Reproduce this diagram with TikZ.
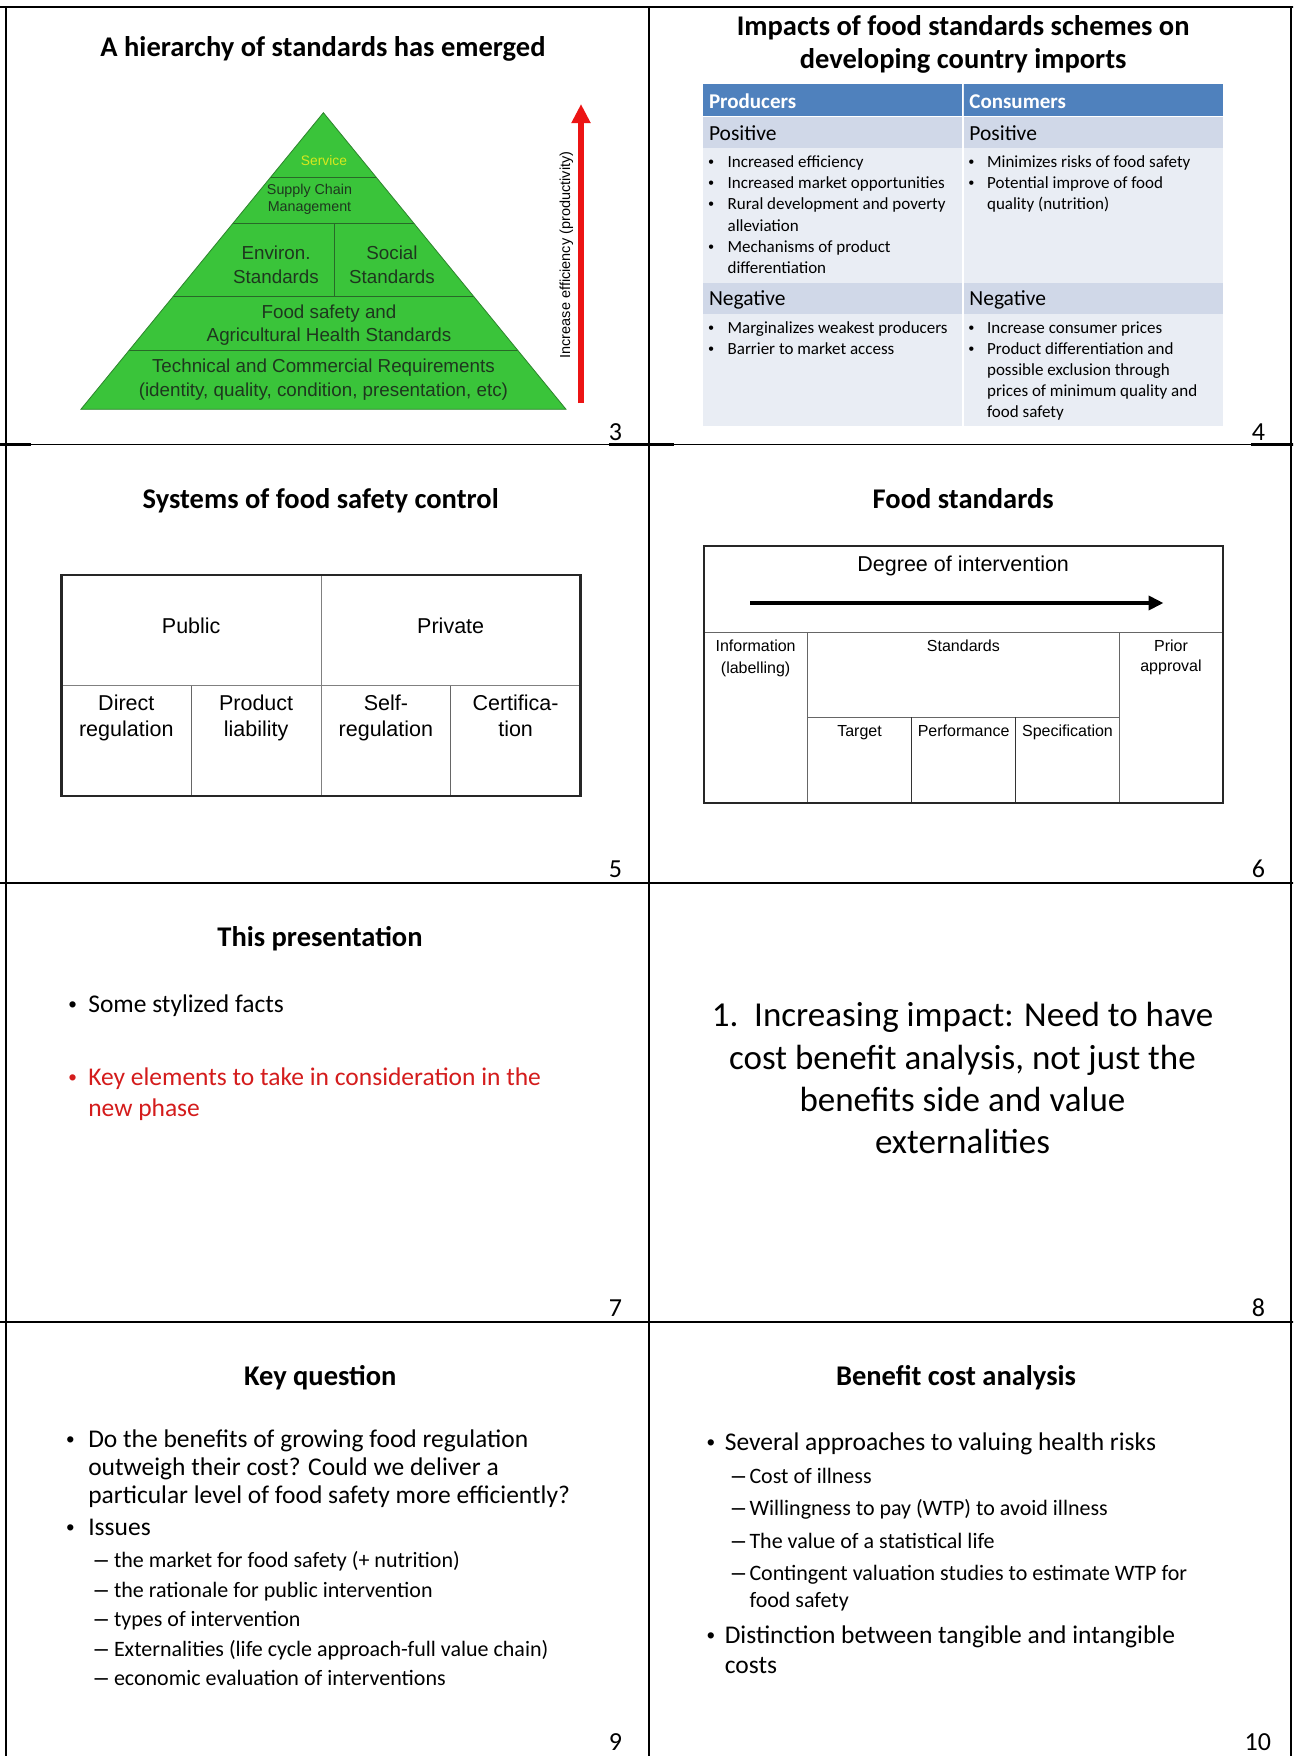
\documentclass[tikz,border=0pt]{standalone}
\usepackage{fontspec}
\setmainfont{Carlito}
\newfontfamily\arialf{Liberation Sans}
\usetikzlibrary{arrows.meta}
\definecolor{pyrgreen}{RGB}{58,196,58}
\definecolor{pyrline}{RGB}{40,105,40}
\definecolor{pyrtext}{RGB}{30,55,30}
\definecolor{svcyellow}{RGB}{215,232,30}
\definecolor{hdrblue}{RGB}{79,129,189}
\definecolor{rowblue}{RGB}{208,216,232}
\definecolor{cellblue}{RGB}{233,237,244}
\definecolor{keyred}{RGB}{212,28,28}
\definecolor{arrowred}{RGB}{236,20,20}
\newcommand\setfs[2]{\fontsize{#1}{#2}\selectfont}
\tikzset{
  every node/.style={inner sep=0pt, outer sep=0pt},
  ttl/.style={anchor=base, font=\setfs{28.5}{33.3}\bfseries, align=center},
  pnum/.style={anchor=base east, font=\setfs{26}{30}},
  pyr/.style={anchor=base, font=\arialf\setfs{18.8}{24}, text=pyrtext, align=center},
  celltxt/.style={anchor=base, font=\arialf\setfs{21.5}{26}, align=center},
  stdtxt/.style={anchor=base, font=\arialf\setfs{16}{21.5}, align=center},
  tblhead/.style={anchor=base west, font=\setfs{21}{25}\bfseries, text=white},
  tblsub/.style={anchor=base west, font=\setfs{21.5}{25}},
  tbltxt/.style={anchor=base west, font=\setfs{17}{21.1}, align=left},
  tblbul/.style={anchor=base, font=\arialf\setfs{16}{21.1}},
  bigtxt/.style={anchor=base west, font=\setfs{25.5}{27.8}, align=left},
  bigbul/.style={anchor=base, font=\arialf\setfs{23}{28}},
  subtxt/.style={anchor=base west, font=\setfs{22}{26.6}, align=left},
  subdash/.style={anchor=base west, font=\arialf\setfs{24}{26.6}},
  gridthin/.style={line width=1.2pt, black},
  gridthick/.style={line width=2.6pt, black},
  gridv/.style={line width=2.2pt, black}
}
\begin{document}
\begin{tikzpicture}[x=1pt,y=-1pt]
\useasboundingbox (0,0) rectangle (1293,1756);
\fill[white] (0,0) rectangle (1293,1756);

% ---------- slide grid ----------
\begin{scope}
\clip (0,0) rectangle (1293,1756);
\foreach \yy in {7,444.3,883,1322}{
  \draw[gridthin] (6,\yy) -- (1291,\yy);
  \foreach \xx in {6,649,1291}{
    \draw[gridthick] (\xx-40,\yy) -- (\xx+25,\yy);
  }
}
\foreach \xx in {6,649,1291}{
  \draw[gridv] (\xx,7) -- (\xx,1756);
}
\end{scope}

% ---------- slide 3 ----------
\node[ttl] (t3) at (323,56) {A hierarchy of standards has emerged};
\coordinate (apex) at (323.4,112.7);
\coordinate (bl) at (80.9,409.3);
\coordinate (br) at (566,409.3);
\fill[pyrgreen] (apex) -- (bl) -- (br) -- cycle;
\begin{scope}
\clip (apex) -- (bl) -- (br) -- cycle;
\foreach \yy in {177.3,223.3,296,350.7}{
  \draw[pyrline, line width=1pt] (60,\yy) -- (590,\yy);
}
\draw[pyrline, line width=1pt] (334.2,223.3) -- (334.2,296);
\end{scope}
\draw[pyrline!70!pyrgreen, line width=0.8pt] (apex) -- (bl) -- (br) -- cycle;
\node[pyr, font=\arialf\setfs{13.8}{17}, text=svcyellow] (svc) at (324,165) {Service};
\node[pyr, font=\arialf\setfs{14.3}{17.4}] (scm) at (309.5,211.7) {Supply Chain\\Management};
\node[pyr] (env) at (276,283.3) {Environ.\\Standards};
\node[pyr] (soc) at (392,283.3) {Social\\Standards};
\node[pyr, font=\arialf\setfs{18.8}{23.4}] (fsafe) at (329,341.7) {Food safety and\\Agricultural Health Standards};
\node[pyr, font=\arialf\setfs{18.8}{23.3}] (tech) at (323.4,396) {Technical and Commercial Requirements\\(identity, quality, condition, presentation, etc)};
\coordinate (arrtail) at (581,403);
\coordinate (arrtip) at (581,104);
\draw[arrowred, line width=6.5pt, -{Triangle[width=18pt,length=19pt]}] (arrtail) -- (arrtip);
\node[anchor=base, rotate=90, font=\arialf\setfs{14.5}{17}] (eff) at (570,255) {Increase efficiency (productivity)};
\node[pnum] (n3) at (622,440) {3};

% ---------- slide 4 ----------
\node[ttl] (t4) at (963.2,68.3) {Impacts of food standards schemes on\\developing country imports};
\fill[hdrblue] (702.9,84.3) rectangle (1222.7,115.7);
\fill[rowblue] (702.9,117.3) rectangle (1222.7,148.3);
\fill[cellblue] (702.9,148.3) rectangle (1222.7,282.7);
\fill[rowblue] (702.9,282.7) rectangle (1222.7,314);
\fill[cellblue] (702.9,314) rectangle (1222.7,426);
\draw[white, line width=1.5pt] (963.2,84.3) -- (963.2,426);
\draw[white!85!hdrblue, line width=0.8pt] (963.2,84.3) -- (963.2,115.7);
\node[tblhead] (prod) at (709,108.3) {Producers};
\node[tblhead] (cons) at (969.4,108.3) {Consumers};
\node[tblsub] (ppos) at (709,140.7) {Positive};
\node[tblsub] (cpos) at (969.4,140.7) {Positive};
\node[tblsub] (pneg) at (709,305.7) {Negative};
\node[tblsub] (cneg) at (969.4,305.7) {Negative};
% producers positive
\node[tblbul] (pb1) at (711.1,167.7) {•};
\node[tbltxt] (pp1) at (727.6,167.7) {Increased efficiency};
\node[tblbul] (pb2) at (711.1,188.8) {•};
\node[tbltxt] (pp2) at (727.6,188.8) {Increased market opportunities};
\node[tblbul] (pb3) at (711.1,209.9) {•};
\node[tbltxt] (pp3) at (727.6,231) {Rural development and poverty\\alleviation};
\node[tblbul] (pb4) at (711.1,252.1) {•};
\node[tbltxt] (pp4) at (727.6,273.2) {Mechanisms of product\\differentiation};
% consumers positive
\node[tblbul] (cb1) at (971.4,167.7) {•};
\node[tbltxt] (cp1) at (987.1,167.7) {Minimizes risks of food safety};
\node[tblbul] (cb2) at (971.4,188.8) {•};
\node[tbltxt] (cp2) at (987.1,209.9) {Potential improve of food\\quality (nutrition)};
% producers negative
\node[tblbul] (pnb1) at (711.1,333.4) {•};
\node[tbltxt] (pn1) at (727.6,333.4) {Marginalizes weakest producers};
\node[tblbul] (pnb2) at (711.1,354.6) {•};
\node[tbltxt] (pn2) at (727.6,354.6) {Barrier to market access};
% consumers negative
\node[tblbul] (cnb1) at (971.4,333.4) {•};
\node[tbltxt] (cn1) at (987.1,333.4) {Increase consumer prices};
\node[tblbul] (cnb2) at (971.4,354.6) {•};
\node[tbltxt] (cn2) at (987.1,417.9) {Product differentiation and\\possible exclusion through\\prices of minimum quality and\\food safety};
\node[pnum] (n4) at (1265,440) {4};

% ---------- slide 5 ----------
\node[ttl] (t5) at (320.7,508.3) {Systems of food safety control};
\draw[gray, line width=1pt] (61.4,685.7) -- (580.4,685.7);
\draw[gray, line width=1pt] (321,575) -- (321,796);
\draw[gray!80!black, line width=1pt] (191.2,685.7) -- (191.2,796);
\draw[gray!80!black, line width=1pt] (450.7,685.7) -- (450.7,796);
\draw[black!85, line width=2.5pt] (61.4,575) rectangle (580.4,796);
\node[celltxt] (pub) at (191.2,633.3) {Public};
\node[celltxt] (priv) at (450.7,633.3) {Private};
\node[celltxt] (dreg) at (126.3,736.7) {Direct\\regulation};
\node[celltxt] (plia) at (256.1,736.7) {Product\\liability};
\node[celltxt] (sreg) at (385.9,736.7) {Self-\\regulation};
\node[celltxt] (cert) at (515.6,736.7) {Certifica-\\tion};
\node[pnum] (n5) at (622,877.3) {5};

% ---------- slide 6 ----------
\node[ttl] (t6) at (963.2,508.3) {Food standards};
\draw[gray!80!black, line width=1.2pt] (703.7,632.3) -- (1222.7,632.3);
\draw[gray!80!black, line width=1.2pt] (807.4,632.3) -- (807.4,803.3);
\draw[gray!80!black, line width=1.2pt] (1119.4,632.3) -- (1119.4,803.3);
\draw[gray!80!black, line width=1.2pt] (807.4,717.3) -- (1119.4,717.3);
\draw[black!80, line width=1pt] (911.5,717.3) -- (911.5,803.3);
\draw[black!80, line width=1pt] (1015.7,717.3) -- (1015.7,803.3);
\draw[black!85, line width=2.2pt] (703.7,546) rectangle (1222.7,803.3);
\node[anchor=base, font=\arialf\setfs{21.5}{26}] (deg) at (963.2,571) {Degree of intervention};
\coordinate (degtail) at (750.4,603);
\coordinate (degtip) at (1163.5,603);
\draw[black, line width=4.7pt, -{Triangle[width=14pt,length=15pt]}] (degtail) -- (degtip);
\node[stdtxt, font=\arialf\setfs{16}{22.5}] (info) at (755.6,673.5) {Information\\(labelling)};
\node[stdtxt] (stds) at (963.4,651) {Standards};
\node[stdtxt, font=\arialf\setfs{16}{20}] (prior) at (1171,671) {Prior\\approval};
\node[stdtxt] (targ) at (859.5,736.7) {Target};
\node[stdtxt] (perf) at (963.6,736.7) {Performance};
\node[stdtxt] (spec) at (1067.5,736.7) {Specification};
\node[pnum] (n6) at (1265,877.3) {6};

% ---------- slide 7 ----------
\node[ttl] (t7) at (320,946.7) {This presentation};
\node[bigbul] (sb1) at (72.6,1012.7) {•};
\node[bigtxt] (st1) at (88.3,1012.7) {Some stylized facts};
\node[bigbul, text=keyred] (sb2) at (72.6,1085.7) {•};
\node[bigtxt, text=keyred, font=\setfs{25.5}{30.3}] (st2) at (88.3,1116) {Key elements to take in consideration in the\\new phase};
\node[pnum] (n7) at (622,1316) {7};

% ---------- slide 8 ----------
\node[anchor=base, font=\setfs{35}{42.4}, align=center] (s8) at (962.5,1153.9) {1.\ \ Increasing impact: Need to have\\cost benefit analysis, not just the\\benefits side and value\\externalities};
\node[pnum] (n8) at (1265,1316) {8};

% ---------- slide 9 ----------
\node[ttl] (t9) at (320.3,1385) {Key question};
\node[bigbul] (kb1) at (70.5,1447.7) {•};
\node[bigtxt] (kt1) at (88.3,1503.3) {Do the benefits of growing food regulation\\outweigh their cost? Could we deliver a\\particular level of food safety more efficiently?};
\node[bigbul] (kb2) at (70.5,1535.7) {•};
\node[bigtxt] (kt2) at (88.3,1535.7) {Issues};
\node[subdash] (kd1) at (94.5,1567.3) {–};
\node[subtxt] (ks1) at (114,1567.3) {the market for food safety (+ nutrition)};
\node[subdash] (kd2) at (94.5,1597.3) {–};
\node[subtxt] (ks2) at (114,1597.3) {the rationale for public intervention};
\node[subdash] (kd3) at (94.5,1626.7) {–};
\node[subtxt] (ks3) at (114,1626.7) {types of intervention};
\node[subdash] (kd4) at (94.5,1656.7) {–};
\node[subtxt] (ks4) at (114,1656.7) {Externalities (life cycle approach-full value chain)};
\node[subdash] (kd5) at (94.5,1685.7) {–};
\node[subtxt] (ks5) at (114,1685.7) {economic evaluation of interventions};
\node[pnum] (n9) at (622,1750) {9};

% ---------- slide 10 ----------
\node[ttl] (t10) at (956,1385) {Benefit cost analysis};
\node[bigbul] (bb1) at (711,1450) {•};
\node[bigtxt] (bt1) at (724.8,1450) {Several approaches to valuing health risks};
\node[subdash] (bd1) at (731.8,1483.3) {–};
\node[subtxt] (bs1) at (749.5,1483.3) {Cost of illness};
\node[subdash] (bd2) at (731.8,1515) {–};
\node[subtxt] (bs2) at (749.5,1515) {Willingness to pay (WTP) to avoid illness};
\node[subdash] (bd3) at (731.8,1548.3) {–};
\node[subtxt] (bs3) at (749.5,1548.3) {The value of a statistical life};
\node[subdash] (bd4) at (731.8,1580.7) {–};
\node[subtxt] (bs4) at (749.5,1607.3) {Contingent valuation studies to estimate WTP for\\food safety};
\node[bigbul] (bb2) at (711,1643.3) {•};
\node[bigtxt, font=\setfs{25.5}{30}] (bt2) at (724.8,1673.3) {Distinction between tangible and intangible\\costs};
\node[pnum] (n10) at (1271,1750) {10};
\end{tikzpicture}
\end{document}
